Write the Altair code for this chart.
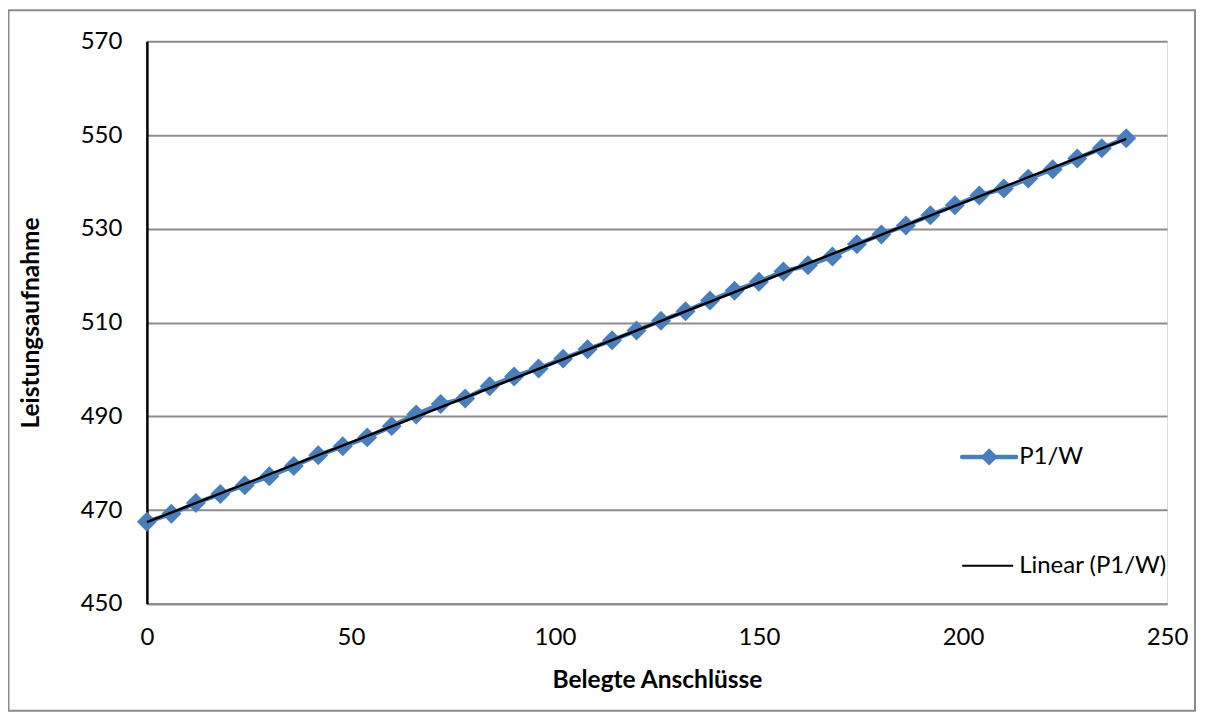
import altair as alt
import pandas as pd

# Data
belegte = [0, 6, 12, 18, 24, 30, 36, 42, 48, 54, 60, 66, 72, 78, 84, 90, 96, 102,
           108, 114, 120, 126, 132, 138, 144, 150, 156, 162, 168, 174, 180, 186,
           192, 198, 204, 210, 216, 222, 228, 234, 240]
leistung = [467.5, 469.2, 471.5, 473.4, 475.3, 477.2, 479.4, 481.7, 483.6, 485.5,
            487.9, 490.4, 492.6, 493.8, 496.4, 498.5, 500.2, 502.3, 504.3, 506.2,
            508.3, 510.4, 512.4, 514.7, 516.8, 518.7, 520.9, 522.2, 524.1, 526.7,
            528.8, 530.7, 532.9, 535.0, 537.1, 538.6, 540.7, 542.7, 545.0, 547.2,
            549.3]
series_names = ["P1/W", "Linear (P1/W)"]
y_ticks = [450, 470, 490, 510, 530, 550, 570]
x_ticks = [0, 50, 100, 150, 200, 250]

BLUE = "#4A7EBB"
GRID = "#8C8C8C"
FONT = "Lato"
LBL = 24
TTL = 24.5

df = pd.DataFrame({"x": belegte, "y": leistung})

xs = alt.X("x:Q", scale=alt.Scale(domain=[0, 250], nice=False),
           axis=alt.Axis(values=x_ticks, title="Belegte Anschlüsse", grid=False,
                         ticks=False, domainColor=GRID, domainWidth=2,
                         labelFlush=False, labelPadding=22, labelFontSize=LBL,
                         labelFont=FONT, labelColor="black", titleFont=FONT,
                         titleFontSize=TTL, titleFontWeight="bold",
                         titleColor="black", titleX=510.5, titleY=77,
                         titleBaseline="middle"))
ys = alt.Y("y:Q", scale=alt.Scale(domain=[450, 570], nice=False, zero=False),
           axis=alt.Axis(values=y_ticks, title="Leistungsaufnahme", grid=True,
                         gridColor=GRID, gridWidth=2, ticks=False,
                         domainColor="black", domainWidth=2.5, labelFlush=False,
                         labelPadding=25, labelFontSize=LBL, labelFont=FONT,
                         labelColor="black", titleFont=FONT, titleFontSize=TTL,
                         titleFontWeight="bold", titleColor="black",
                         titleX=-115, titleY=281.5, titleBaseline="middle",
                         titleAlign="center"))

one = pd.DataFrame({"k": [0]})

border = alt.Chart(one).mark_rect(fill=None, stroke=GRID, strokeWidth=2).encode(
    x=alt.value(-138.5), x2=alt.value(1049), y=alt.value(-31), y2=alt.value(670))

base = alt.Chart(df)
line = base.mark_line(color=BLUE, strokeWidth=4.5).encode(x=xs, y=ys)
pts = base.mark_point(shape="diamond", filled=True, size=400, color=BLUE,
                      opacity=1).encode(x="x:Q", y="y:Q")
trend = base.transform_regression("x", "y", method="linear").mark_line(
    color="black", strokeWidth=2.5).encode(x="x:Q", y="y:Q")

leg1_line = alt.Chart(one).mark_rule(color=BLUE, strokeWidth=4.5, strokeCap="round").encode(
    x=alt.value(816), x2=alt.value(870), y=alt.value(416))
leg1_pt = alt.Chart(one).mark_point(shape="diamond", filled=True, size=300,
                                    color=BLUE, opacity=1).encode(
    x=alt.value(843), y=alt.value(416))
leg1_txt = alt.Chart(one).mark_text(text=series_names[0], align="left",
                                    baseline="middle", font=FONT, fontSize=LBL,
                                    color="black").encode(
    x=alt.value(873), y=alt.value(416))
leg2_line = alt.Chart(one).mark_rule(color="black", strokeWidth=2).encode(
    x=alt.value(816), x2=alt.value(867), y=alt.value(525))
leg2_txt = alt.Chart(one).mark_text(text=series_names[1], align="left",
                                    baseline="middle", font=FONT, fontSize=LBL,
                                    color="black").encode(
    x=alt.value(873), y=alt.value(525))

chart = alt.layer(border, line, pts, trend, leg1_line, leg1_pt, leg1_txt,
                  leg2_line, leg2_txt).properties(
    width=1021, height=563,
    autosize=alt.AutoSizeParams(type="none"),
    padding={"left": 139, "top": 33, "right": 30, "bottom": 108},
).configure_view(stroke=None).configure(background="white")

chart.save("out.html", embed_options={"renderer": "svg", "actions": False})
